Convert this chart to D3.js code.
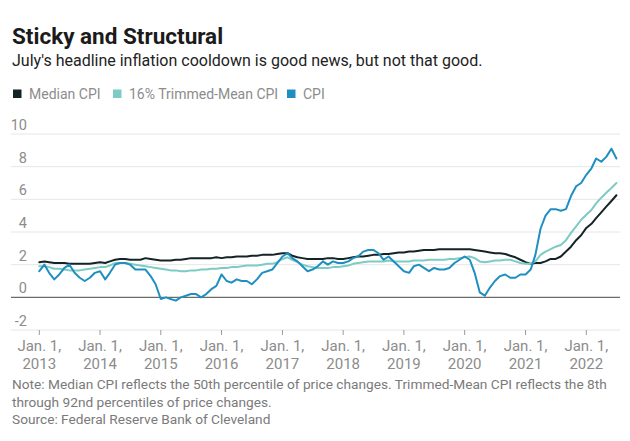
<!DOCTYPE html>
<html>
<head>
<meta charset="utf-8">
<script src="https://cdn.jsdelivr.net/npm/d3@7"></script>
<style>
  html, body { margin: 0; padding: 0; background: #fff; }
  svg { display: block; font-family: Roboto, "Noto Sans", sans-serif; }
</style>
</head>
<body>
<svg id="chart" width="630" height="441"></svg>
<script>
// ---- Data (monthly, Jan 2013 – Jul 2022, year-over-year % change) ----
const startYear = 2013;
const startMonth = 0;

const medianCPI = [
  2.15, 2.2, 2.15, 2.1, 2.1, 2.1, 2.05, 2.05, 2.05, 2.05, 2.05, 2.1,
  2.15, 2.1, 2.2, 2.3, 2.35, 2.35, 2.3, 2.3, 2.3, 2.4, 2.35, 2.3,
  2.25, 2.25, 2.25, 2.3, 2.3, 2.35, 2.4, 2.4, 2.4, 2.4, 2.4, 2.45,
  2.4, 2.45, 2.45, 2.5, 2.5, 2.5, 2.55, 2.55, 2.6, 2.6, 2.6, 2.65,
  2.7, 2.7, 2.55, 2.45, 2.4, 2.35, 2.35, 2.35, 2.35, 2.4, 2.4, 2.35,
  2.35, 2.4, 2.45, 2.5, 2.5, 2.55, 2.6, 2.6, 2.65, 2.65, 2.7, 2.75,
  2.75, 2.8, 2.8, 2.85, 2.9, 2.9, 2.9, 2.95, 2.95, 2.95, 2.95, 2.95,
  2.95, 2.95, 2.9, 2.85, 2.8, 2.75, 2.7, 2.7, 2.65, 2.55, 2.45, 2.3,
  2.15, 2.05, 2.1, 2.1, 2.2, 2.35, 2.35, 2.5, 2.8, 3.1, 3.5, 3.8,
  4.25, 4.5, 4.85, 5.2, 5.55, 5.9, 6.25
];

const trimmedMeanCPI = [
  1.9, 1.9, 1.85, 1.75, 1.75, 1.7, 1.65, 1.65, 1.65, 1.7, 1.75, 1.8,
  1.85, 1.85, 1.95, 2.1, 2.1, 2.1, 2.05, 2.0, 1.95, 1.9, 1.85, 1.8,
  1.75, 1.7, 1.65, 1.65, 1.6, 1.6, 1.65, 1.65, 1.7, 1.7, 1.75, 1.75,
  1.8, 1.8, 1.85, 1.85, 1.9, 1.95, 1.95, 1.95, 2.0, 2.05, 2.05, 2.15,
  2.35, 2.45, 2.3, 2.15, 2.0, 1.9, 1.85, 1.8, 1.8, 1.8, 1.85, 1.85,
  1.9, 1.95, 2.05, 2.1, 2.15, 2.2, 2.2, 2.2, 2.2, 2.25, 2.2, 2.2,
  2.2, 2.2, 2.25, 2.25, 2.25, 2.3, 2.3, 2.3, 2.3, 2.35, 2.35, 2.4,
  2.45, 2.5, 2.4, 2.2, 2.15, 2.2, 2.25, 2.25, 2.3, 2.3, 2.2, 2.1,
  2.05, 2.05, 2.2, 2.6, 2.8, 2.95, 3.1, 3.2, 3.5, 3.95, 4.35, 4.75,
  5.05, 5.35, 5.75, 6.1, 6.4, 6.7, 7.0
];

const headlineCPI = [
  1.6, 2.0, 1.5, 1.1, 1.4, 1.8, 2.0, 1.5, 1.2, 1.0, 1.2, 1.5,
  1.6, 1.1, 1.5, 2.0, 2.1, 2.1, 2.0, 1.7, 1.7, 1.7, 1.3, 0.8,
  -0.1, 0.0, -0.1, -0.2, 0.0, 0.1, 0.2, 0.2, 0.0, 0.2, 0.5, 0.7,
  1.4, 1.0, 0.9, 1.1, 1.0, 1.0, 0.8, 1.1, 1.5, 1.6, 1.7, 2.1,
  2.5, 2.7, 2.4, 2.2, 1.9, 1.6, 1.7, 1.9, 2.2, 2.0, 2.2, 2.1,
  2.1, 2.2, 2.4, 2.5, 2.8, 2.9, 2.9, 2.7, 2.3, 2.5, 2.2, 1.9,
  1.6, 1.5, 1.9, 2.0, 1.8, 1.6, 1.8, 1.7, 1.7, 1.8, 2.1, 2.3,
  2.5, 2.3, 1.5, 0.3, 0.1, 0.6, 1.0, 1.3, 1.4, 1.2, 1.2, 1.4,
  1.4, 1.7, 2.6, 4.2, 5.0, 5.4, 5.4, 5.3, 5.4, 6.2, 6.8, 7.0,
  7.5, 7.9, 8.5, 8.3, 8.6, 9.1, 8.5
];

const yTicks = [-2, 0, 2, 4, 6, 8, 10];
const xTickYears = [2013, 2014, 2015, 2016, 2017, 2018, 2019, 2020, 2021, 2022];

const seriesNames = ["Median CPI", "16% Trimmed-Mean CPI", "CPI"];
const seriesColors = ["#142326", "#7ccbc4", "#1f8fc2"];

const titleText = "Sticky and Structural";
const subtitleText = "July's headline inflation cooldown is good news, but not that good.";
const noteLines = [
  "Note: Median CPI reflects the 50th percentile of price changes. Trimmed-Mean CPI reflects the 8th",
  "through 92nd percentiles of price changes.",
  "Source: Federal Reserve Bank of Cleveland"
];

// ---- Build ----
const dates = medianCPI.map((_, i) => new Date(startYear, startMonth + i, 1));
const series = [medianCPI, trimmedMeanCPI, headlineCPI];

const svg = d3.select("#chart");

const x = d3.scaleTime()
  .domain([new Date(2013, 0, 1), new Date(2022, 0, 1)])
  .range([39.3, 586.3]);
const y = d3.scaleLinear().domain([-2, 10]).range([330, 134]);

const gridLeft = 11, gridRight = 620;

// Title / subtitle
svg.append("text").attr("x", 12).attr("y", 43.5)
  .attr("font-size", 22.5).attr("font-weight", 700).attr("fill", "#1b1b1b")
  .text(titleText);
svg.append("text").attr("x", 12).attr("y", 65.5)
  .attr("font-size", 16).attr("fill", "#222")
  .text(subtitleText);

// Legend
const legendX = [13, 113, 287];
const leg = svg.append("g");
seriesNames.forEach((name, i) => {
  leg.append("rect").attr("x", legendX[i]).attr("y", 89.5).attr("width", 8.5).attr("height", 8.5)
    .attr("fill", seriesColors[i]);
  leg.append("text").attr("x", legendX[i] + 16).attr("y", 99)
    .attr("font-size", 14).attr("fill", "#8c8c8c").text(name);
});

// Gridlines + y labels
const grid = svg.append("g");
yTicks.forEach(t => {
  grid.append("line")
    .attr("x1", gridLeft).attr("x2", gridRight)
    .attr("y1", y(t)).attr("y2", y(t))
    .attr("stroke", t === 0 ? "#6b6b6b" : "#e6e6e6")
    .attr("stroke-width", t === 0 ? 1.4 : 1);
  grid.append("text").attr("x", 27).attr("y", y(t) - 4)
    .attr("text-anchor", "end").attr("font-size", 14.5).attr("fill", "#8c8c8c")
    .text(t);
});

// X axis ticks and labels
const xg = svg.append("g");
xTickYears.forEach(yr => {
  const d = new Date(yr, 0, 1);
  const px = x(d);
  xg.append("line").attr("x1", px).attr("x2", px).attr("y1", y(-2)).attr("y2", y(-2) + 5)
    .attr("stroke", "#9a9a9a").attr("stroke-width", 1);
  const t = xg.append("text").attr("text-anchor", "middle").attr("font-size", 15).attr("fill", "#8c8c8c");
  t.append("tspan").attr("x", px).attr("y", 351).text("Jan. 1,");
  t.append("tspan").attr("x", px).attr("y", 368.5).text(yr);
});

// Lines
const line = d3.line().x((d, i) => x(dates[i])).y(d => y(d)).curve(d3.curveLinear);
series.forEach((s, i) => {
  svg.append("path").datum(s).attr("d", line)
    .attr("fill", "none").attr("stroke", seriesColors[i])
    .attr("stroke-width", 2).attr("stroke-linejoin", "round").attr("stroke-linecap", "round");
});

// Notes
noteLines.forEach((l, i) => {
  svg.append("text").attr("x", 12).attr("y", 389 + i * 17.5)
    .attr("font-size", 13.7).attr("fill", "#7a7a7a").text(l);
});
</script>
</body>
</html>
